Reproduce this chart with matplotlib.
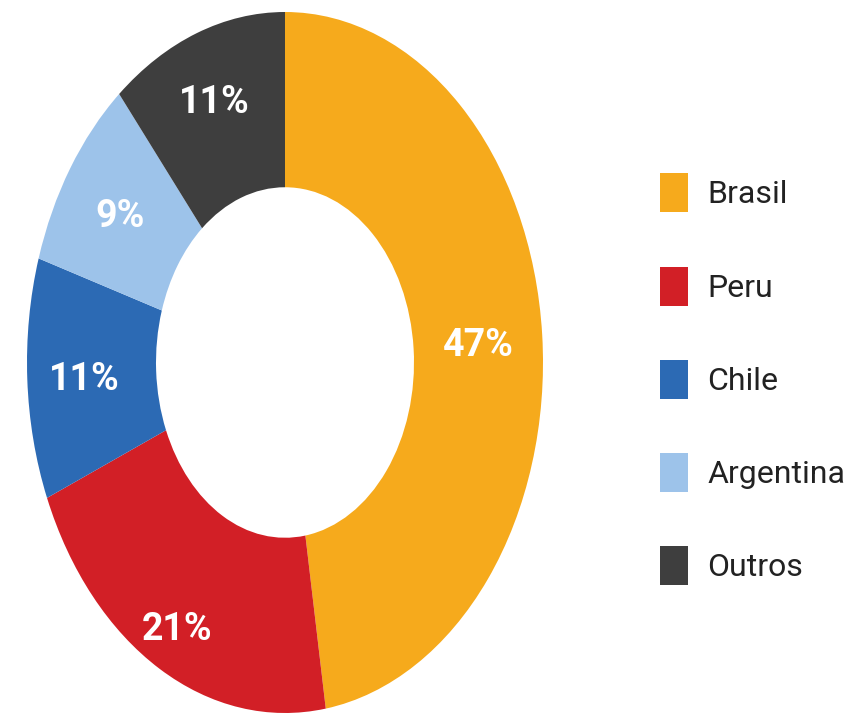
import numpy as np
import matplotlib
matplotlib.use("Agg")
import matplotlib.pyplot as plt

# data
countries = ["Brasil", "Peru", "Chile", "Argentina", "Outros"]
shares = [47, 21, 11, 9, 11]
colors = ["#F6AA1C", "#D21F26", "#2C6AB4", "#9DC3EA", "#3E3E3E"]

# radial position of each percentage label (fraction of outer radius)
label_r = [0.75, 0.86, 0.78, 0.77, 0.80]

fig = plt.figure(figsize=(8.51, 7.17), dpi=100)
ax = fig.add_axes([27 / 851, 4 / 717, 516 / 851, 701 / 717])

wedges, _ = ax.pie(
    shares, colors=colors, startangle=90, counterclock=False,
    radius=1.0, wedgeprops=dict(width=0.5, edgecolor="none"),
)
ax.set_aspect("auto")
ax.set_xlim(-1.0, 1.0)
ax.set_ylim(-1.0, 1.0)

for w, v, r in zip(wedges, shares, label_r):
    mid = np.deg2rad((w.theta1 + w.theta2) / 2)
    ax.text(r * np.cos(mid), r * np.sin(mid) - 0.01, f"{v}%", color="white",
            family="Roboto", fontsize=27, fontweight="bold",
            ha="center", va="center")

fig.legend(
    wedges, countries, loc="center left", bbox_to_anchor=(660 / 851, 0.471),
    frameon=False, prop=dict(family="Roboto", size=23),
    handlelength=0.88, handleheight=1.5, handletextpad=0.6,
    labelspacing=1.7, borderpad=0, borderaxespad=0, labelcolor="#222222",
)

fig.savefig("out.png", dpi=100)
